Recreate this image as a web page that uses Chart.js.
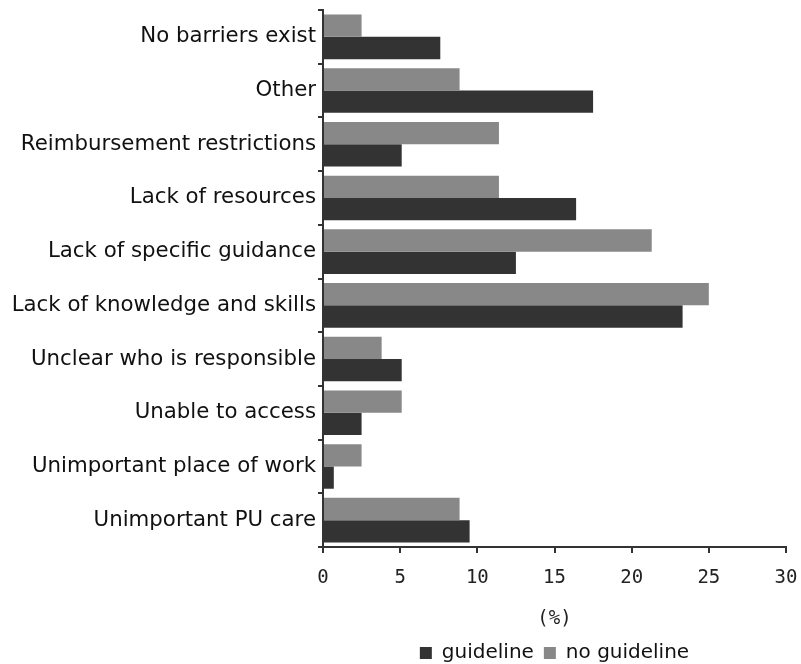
<!DOCTYPE html>
<html>
<head>
<meta charset="utf-8">
<script src="https://cdn.jsdelivr.net/npm/chart.js@4.4.1/dist/chart.umd.min.js"></script>
<style>
  html, body { margin: 0; padding: 0; background: #fff; overflow: hidden; }
  #wrap { width: 801px; height: 664px; }
</style>
</head>
<body>
<div id="wrap"><canvas id="barrierChart" width="801" height="664"></canvas></div>
<script>
// barriers, top to bottom as in the figure
const categories = [
  'No barriers exist',
  'Other',
  'Reimbursement restrictions',
  'Lack of resources',
  'Lack of specific guidance',
  'Lack of knowledge and skills',
  'Unclear who is responsible',
  'Unable to access',
  'Unimportant place of work',
  'Unimportant PU care'
];
const guideline = [7.6, 17.5, 5.1, 16.4, 12.5, 23.3, 5.1, 2.5, 0.7, 9.5];
const noGuideline = [2.5, 8.85, 11.4, 11.4, 21.3, 25.0, 3.8, 5.1, 2.5, 8.85];
const xTicks = [0, 5, 10, 15, 20, 25, 30];

const axisColor = '#333';
const textFont = 'DejaVu Sans, Verdana, sans-serif';
const monoFont = 'DejaVu Sans Mono, monospace';

const ctx = document.getElementById('barrierChart').getContext('2d');
new Chart(ctx, {
  type: 'bar',
  data: {
    labels: categories,
    datasets: [
      {
        label: 'no guideline',
        data: noGuideline,
        backgroundColor: '#888888',
        borderWidth: 0
      },
      {
        label: 'guideline',
        data: guideline,
        backgroundColor: '#333333',
        borderWidth: 0
      }
    ]
  },
  options: {
    indexAxis: 'y',
    responsive: false,
    animation: false,
    categoryPercentage: 0.83,
    barPercentage: 1.0,
    layout: {
      padding: { top: 10, right: 15, left: 0, bottom: -9 }
    },
    plugins: {
      tooltip: { enabled: false },
      legend: {
        position: 'bottom',
        fullSize: false,
        reverse: true,
        labels: {
          boxWidth: 12,
          boxHeight: 12,
          padding: 10,
          color: '#111',
          font: { family: textFont, size: 20 }
        }
      }
    },
    scales: {
      x: {
        min: 0,
        max: 30,
        afterBuildTicks: (scale) => {
          scale.ticks = xTicks.map(v => ({ value: v }));
        },
        afterFit: (scale) => {
          scale.height = 86;
          scale.paddingLeft = 0;
          scale.paddingRight = 0;
        },
        grid: {
          drawOnChartArea: false,
          drawTicks: true,
          tickLength: 6,
          color: axisColor,
          lineWidth: 2
        },
        border: { display: true, color: axisColor, width: 2 },
        ticks: {
          padding: 14,
          color: '#222',
          font: { family: monoFont, size: 19 }
        },
        title: {
          display: true,
          text: '(%)',
          color: '#222',
          padding: { top: 4, bottom: 3 },
          font: { family: monoFont, size: 19 }
        }
      },
      y: {
        afterFit: (scale) => {
          scale.width = 323;
          scale.paddingTop = 0;
          scale.paddingBottom = 0;
        },
        grid: {
          offset: true,
          drawOnChartArea: false,
          drawTicks: true,
          tickLength: 5,
          color: axisColor,
          lineWidth: 2
        },
        border: { display: true, color: axisColor, width: 2 },
        ticks: {
          autoSkip: false,
          padding: 2,
          color: '#111',
          font: { family: textFont, size: 21.3 }
        }
      }
    }
  }
});
</script>
</body>
</html>
